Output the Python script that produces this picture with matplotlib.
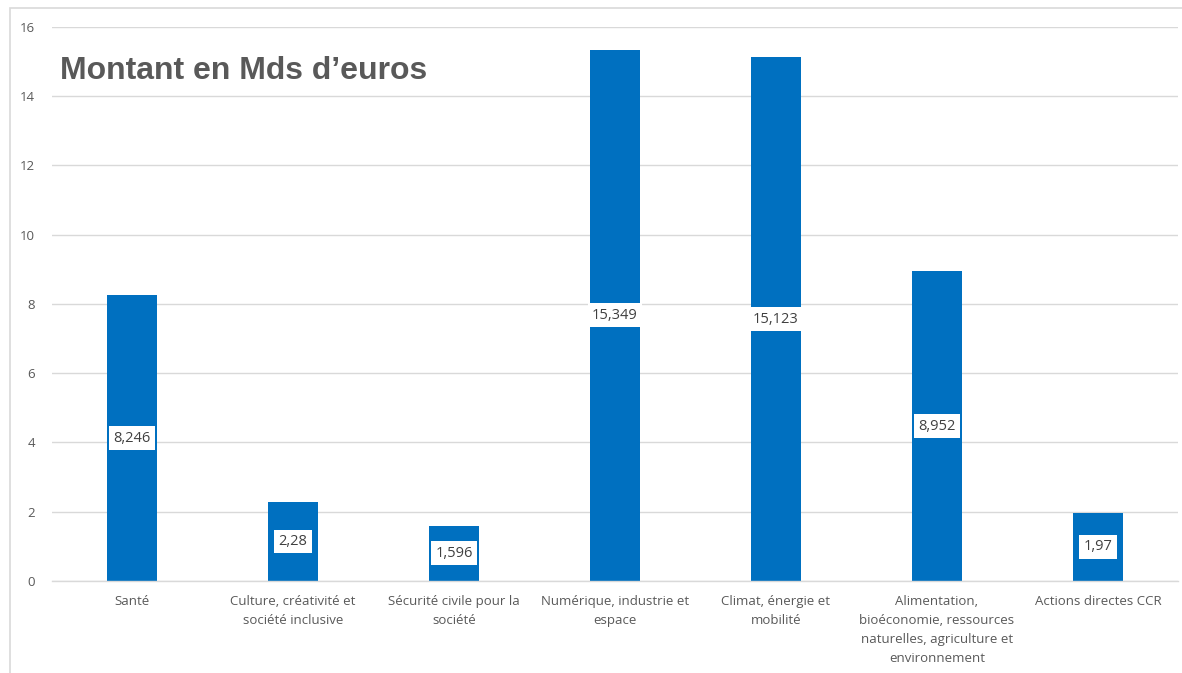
import matplotlib
matplotlib.use('Agg')
import matplotlib.pyplot as plt
from matplotlib.patches import Rectangle

categories = ['Santé',
              'Culture, créativité et\nsociété inclusive',
              'Sécurité civile pour la\nsociété',
              'Numérique, industrie et\nespace',
              'Climat, énergie et\nmobilité',
              'Alimentation,\nbioéconomie, ressources\nnaturelles, agriculture et\nenvironnement',
              'Actions directes CCR']
values = [8.246, 2.28, 1.596, 15.349, 15.123, 8.952, 1.97]
labels = ['8,246', '2,28', '1,596', '15,349', '15,123', '8,952', '1,97']
yticks = [0, 2, 4, 6, 8, 10, 12, 14, 16]

plt.rcParams['font.family'] = ['Open Sans', 'DejaVu Sans']

fig = plt.figure(figsize=(11.82, 6.73), dpi=100)
ax = fig.add_axes([0.0436, 0.1367, 0.9534, 0.8232])

x = list(range(len(categories)))
ax.bar(x, values, width=0.31, color='#0070C0', zorder=2)
for xi, v, lab in zip(x, values, labels):
    ax.text(xi, v / 2, lab, ha='center', va='center', fontsize=10.5, color='#404040',
            zorder=3, bbox=dict(boxstyle='square,pad=0.3', fc='white', ec='none'))

ax.set_xlim(-0.5, len(categories) - 0.5)
ax.set_ylim(0, 16)
ax.set_yticks(yticks)
ax.set_yticklabels([str(t) for t in yticks], fontsize=9.5, color='#595959')
ax.set_xticks(x)
ax.set_xticklabels(categories, fontsize=9.5, color='#595959', linespacing=1.6, va='top')
ax.tick_params(axis='both', length=0)
ax.tick_params(axis='y', pad=12)
ax.tick_params(axis='x', pad=10)
ax.grid(axis='y', color='#d9d9d9', linewidth=1, zorder=0)
for s in ['top', 'right', 'left']:
    ax.spines[s].set_visible(False)
ax.spines['bottom'].set_color('#d9d9d9')
ax.spines['bottom'].set_linewidth(1)

fig.text(60 / 1182, 1 - 71 / 673, 'Montant en Mds d\u2019euros', fontsize=23,
         fontweight='bold', color='#595959', va='center', ha='left',
         family=['Liberation Sans', 'DejaVu Sans'])

fig.patches.append(Rectangle((10 / 1182, -0.1), 1.1, 1 - 8 / 673 + 0.1,
                             transform=fig.transFigure, fill=False,
                             ec='#d9d9d9', lw=1.2))

fig.savefig('out.png', dpi=100)
